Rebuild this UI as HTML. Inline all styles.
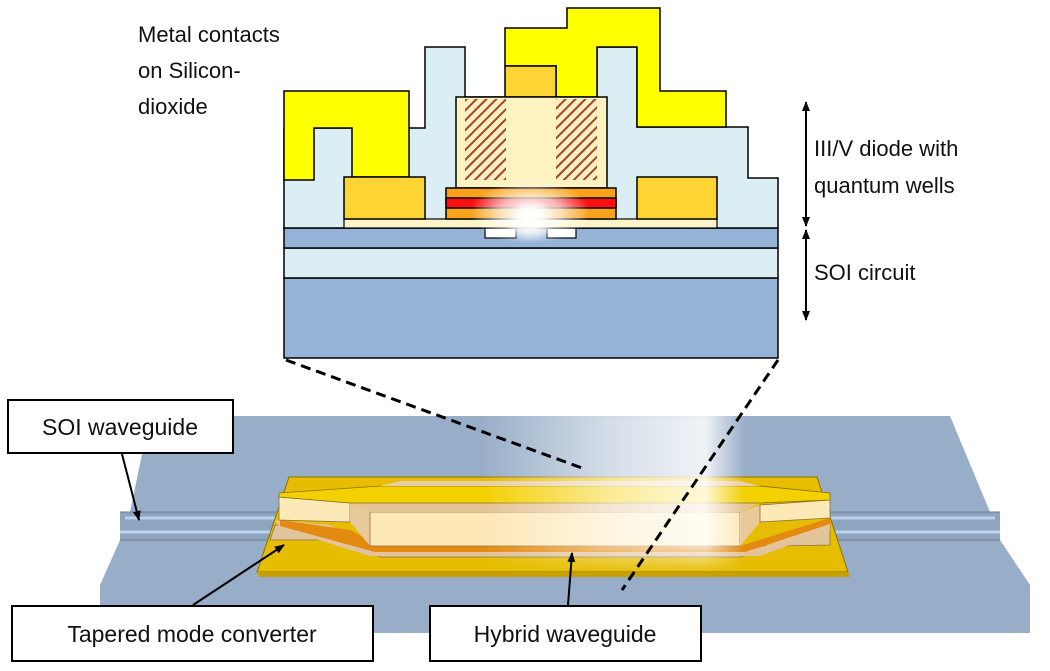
<!DOCTYPE html>
<html><head><meta charset="utf-8"><style>
html,body{margin:0;padding:0;background:#fff;}
svg{display:block;}
text{font-family:"Liberation Sans",sans-serif;fill:#111;}
</style></head><body>
<svg width="1050" height="671" viewBox="0 0 1050 671" xmlns="http://www.w3.org/2000/svg">
<defs>
<pattern id="hat" width="7" height="7" patternUnits="userSpaceOnUse" patternTransform="rotate(45)">
<rect width="7" height="7" fill="#fdf0c0"/><rect width="2" height="7" fill="#a0452a"/></pattern>
<radialGradient id="glow" cx="0.5" cy="0.5" r="0.5">
<stop offset="0" stop-color="#fff" stop-opacity="1"/><stop offset="0.5" stop-color="#fff" stop-opacity="0.7"/><stop offset="1" stop-color="#fff" stop-opacity="0"/></radialGradient>
<linearGradient id="beam" x1="0" y1="0" x2="1" y2="0">
<stop offset="0" stop-color="#fff" stop-opacity="0"/><stop offset="0.5" stop-color="#fff" stop-opacity="0.6"/><stop offset="0.85" stop-color="#fff" stop-opacity="0.85"/><stop offset="1" stop-color="#fff" stop-opacity="0"/></linearGradient>
<linearGradient id="vfade" x1="0" y1="0" x2="0" y2="1">
<stop offset="0" stop-color="#fff" stop-opacity="0"/><stop offset="0.25" stop-color="#fff" stop-opacity="1"/><stop offset="0.85" stop-color="#fff" stop-opacity="1"/><stop offset="1" stop-color="#fff" stop-opacity="0"/></linearGradient>
<mask id="bm"><rect x="480" y="368" width="265" height="205" fill="url(#vfade)"/></mask>
<marker id="ar" markerWidth="10" markerHeight="10" refX="9" refY="5" orient="auto" markerUnits="userSpaceOnUse"><path d="M0,1 L10,5 L0,9 z" fill="#000"/></marker>
<marker id="ar2" markerWidth="10" markerHeight="10" refX="1" refY="5" orient="auto" markerUnits="userSpaceOnUse"><path d="M10,1 L0,5 L10,9 z" fill="#000"/></marker>
</defs>

<!-- Bottom plate -->
<polygon points="150,416 950,416 990,512 1000,540 1030,585 1030,633 100,633 100,585 120,540 130,512" fill="#98aec8"/>
<rect x="120" y="512" width="880" height="28" fill="#8ea4bf"/>
<line x1="125" y1="518" x2="995" y2="518" stroke="#b9d2ee" stroke-width="3"/>
<line x1="120" y1="532" x2="1000" y2="532" stroke="#b9d2ee" stroke-width="3"/>
<line x1="120" y1="512" x2="1000" y2="512" stroke="#6d7f96" stroke-width="1"/>
<line x1="120" y1="540" x2="1000" y2="540" stroke="#6d7f96" stroke-width="1"/>

<!-- gold base -->
<polygon points="289,477 817,477 848,572 257,572" fill="#e6bd00" stroke="#8a7000" stroke-width="1"/>
<polygon points="257,572 848,572 850,577 259,577" fill="#c9a000"/>
<polygon points="275,525 330,530 380,557 740,557 810,535 830,522 830,545 780,546 720,546 660,548 380,548 330,540 270,540" fill="#e0c49a" stroke="#8a7040" stroke-width="0.8"/>
<polygon points="275,520 330,525 370,548 760,548 830,522 830,530 760,556 370,556 280,528" fill="#e2c39a"/>
<polygon points="280,520 350,530 380,546 740,546 830,518 830,524 745,552 375,552 280,526" fill="#e48a10"/>
<polygon points="279,497 350,503 350,522 279,520" fill="#fde9b8" stroke="#8a7040" stroke-width="0.8"/>
<polygon points="350,503 370,512 370,546 350,522" fill="#e7c99a"/>
<polygon points="370,512 740,512 740,546 370,546" fill="#fde7b5" stroke="#8a7040" stroke-width="0.8"/>
<polygon points="740,512 760,505 760,522 740,546" fill="#e7c99a"/>
<polygon points="760,505 830,500 830,518 760,522" fill="#fde9b8" stroke="#8a7040" stroke-width="0.8"/>
<polygon points="350,503 760,503 740,512 370,512" fill="#e5c495"/>
<polygon points="279,493 380,486 760,486 830,493 830,500 760,503 350,503 279,497" fill="#f3d000" stroke="#8a7000" stroke-width="0.8"/>
<polygon points="380,486 400,481 740,481 760,486" fill="#e8cfa3"/>

<!-- beam -->
<rect x="480" y="368" width="265" height="205" fill="url(#beam)" mask="url(#bm)"/>

<!-- Top cross-section -->
<rect x="284" y="278" width="494" height="80" fill="#95b3d7" stroke="#000" stroke-width="1.5"/>
<rect x="284" y="248" width="494" height="30" fill="#dbeef4" stroke="#000" stroke-width="1.5"/>
<rect x="284" y="228" width="494" height="20" fill="#95b3d7" stroke="#000" stroke-width="1.5"/>
<rect x="485" y="228" width="31" height="10" fill="#fff" stroke="#000" stroke-width="1.2"/>
<rect x="547" y="228" width="29" height="10" fill="#fff" stroke="#000" stroke-width="1.2"/>
<polygon points="284,228 284,128 425,128 425,47 465,47 465,97 597,97 597,47 637,47 637,127 748,127 748,178 778,178 778,228" fill="#dbeef4" stroke="#000" stroke-width="1.5"/>
<rect x="344" y="219" width="373" height="9" fill="#fdf5c9" stroke="#000" stroke-width="1.2"/>
<polygon points="284,91 409,91 409,177 352,177 352,128 314,128 314,180 284,180" fill="#ffff00" stroke="#000" stroke-width="1.5"/>
<polygon points="505,66 505,28 567,28 567,8 660,8 660,91 726,91 726,127 637,127 637,47 597,47 597,97 556,97 556,66" fill="#ffff00" stroke="#000" stroke-width="1.5"/>
<rect x="505" y="66" width="51" height="31" fill="#fcd535" stroke="#000" stroke-width="1.5"/>
<rect x="344" y="177" width="81" height="42" fill="#fcd535" stroke="#000" stroke-width="1.5"/>
<rect x="637" y="177" width="80" height="42" fill="#fcd535" stroke="#000" stroke-width="1.5"/>
<rect x="456" y="97" width="151" height="91" fill="#fdf3c0" stroke="#000" stroke-width="1.5"/>
<rect x="465" y="99" width="41" height="81" fill="url(#hat)"/>
<rect x="556" y="99" width="41" height="81" fill="url(#hat)"/>
<rect x="446" y="188" width="170" height="31" fill="#f7a21a" stroke="#000" stroke-width="1.5"/>
<rect x="446" y="198" width="170" height="10" fill="#ff1010" stroke="#000" stroke-width="1.5"/>
<ellipse cx="530" cy="212" rx="60" ry="32" fill="url(#glow)"/>
<ellipse cx="530" cy="220" rx="25" ry="22" fill="url(#glow)"/>

<line x1="286" y1="360" x2="582" y2="468" stroke="#000" stroke-width="3" stroke-dasharray="10,6"/>
<line x1="778" y1="360" x2="622" y2="590" stroke="#000" stroke-width="3" stroke-dasharray="10,6"/>

<line x1="806" y1="102" x2="806" y2="226" stroke="#000" stroke-width="2" marker-start="url(#ar2)" marker-end="url(#ar)"/>
<line x1="806" y1="230" x2="806" y2="320" stroke="#000" stroke-width="2" marker-start="url(#ar2)" marker-end="url(#ar)"/>

<text x="138" y="42" font-size="22">Metal contacts</text>
<text x="138" y="78" font-size="22">on Silicon-</text>
<text x="138" y="114" font-size="22">dioxide</text>
<text x="814" y="156" font-size="22">III/V diode with</text>
<text x="814" y="193" font-size="22">quantum wells</text>
<text x="814" y="280" font-size="22">SOI circuit</text>

<rect x="8" y="400" width="225" height="53" fill="#fff" stroke="#000" stroke-width="2"/>
<text x="120" y="435" font-size="23" text-anchor="middle">SOI waveguide</text>
<rect x="12" y="606" width="361" height="55" fill="#fff" stroke="#000" stroke-width="2"/>
<text x="192" y="642" font-size="23" text-anchor="middle">Tapered mode converter</text>
<rect x="430" y="606" width="271" height="55" fill="#fff" stroke="#000" stroke-width="2"/>
<text x="565" y="642" font-size="23" text-anchor="middle">Hybrid waveguide</text>

<line x1="122" y1="454" x2="139" y2="520" stroke="#000" stroke-width="2" marker-end="url(#ar)"/>
<line x1="193" y1="605" x2="284" y2="545" stroke="#000" stroke-width="2" marker-end="url(#ar)"/>
<line x1="568" y1="605" x2="572" y2="553" stroke="#000" stroke-width="2" marker-end="url(#ar)"/>
</svg>
</body></html>
